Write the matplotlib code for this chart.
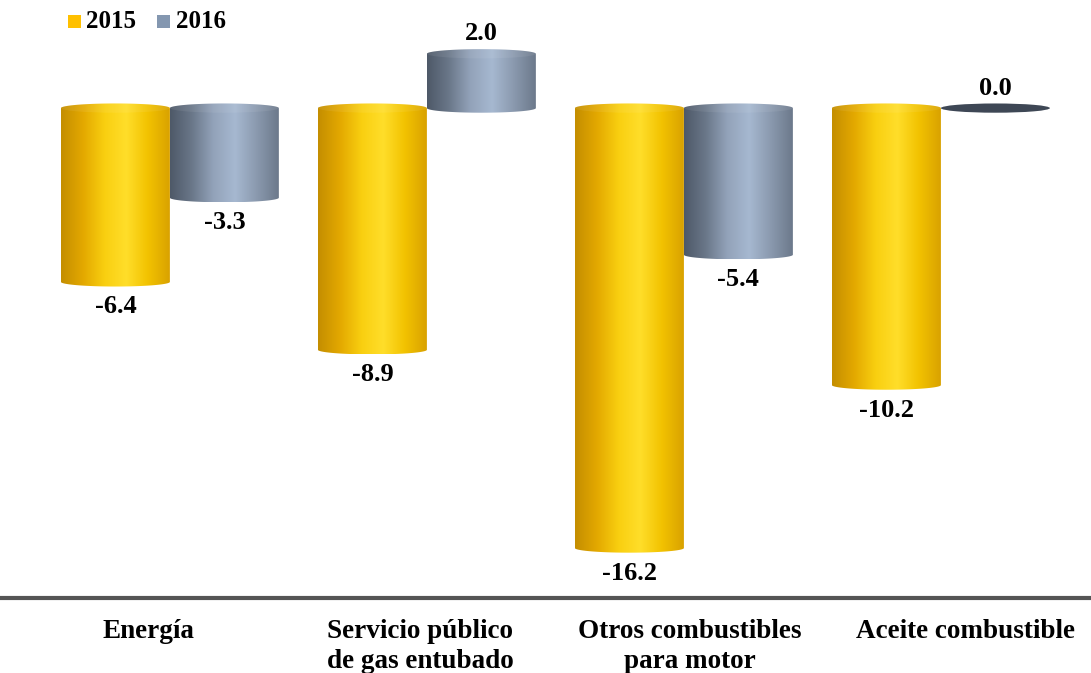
import numpy as np
import matplotlib.pyplot as plt
from matplotlib.path import Path
from matplotlib.patches import PathPatch, Ellipse, Rectangle
from matplotlib.colors import LinearSegmentedColormap

# Datos del gráfico
categorias = ["Energía", "Servicio público\nde gas entubado",
              "Otros combustibles\npara motor", "Aceite combustible"]
series = ["2015", "2016"]
valores_2015 = [-6.4, -8.9, -16.2, -10.2]
valores_2016 = [-3.3, 2.0, -5.4, 0.0]

plt.rcParams['font.family'] = ['Liberation Serif', 'DejaVu Serif']
plt.rcParams['font.weight'] = 'bold'

W, H = 1091, 673
fig = plt.figure(figsize=(W / 100, H / 100), dpi=100)
ax = fig.add_axes([0, 0.1114, 1, 0.8886])

ancho = 0.424
ry = 0.17

cmap_amarillo = LinearSegmentedColormap.from_list(
    "amarillo", ["#C48E00", "#E3A800", "#F9CF10", "#FFDE2A", "#F2C200", "#D9A200"])
cmap_gris = LinearSegmentedColormap.from_list(
    "gris", ["#4E5968", "#6A7789", "#93A3BA", "#A6B8D0", "#8A99AE", "#6C798B"])
grad = np.linspace(0, 1, 256).reshape(1, -1)


def cilindro(x0, valor, cmap, color_cero):
    cx = x0 + ancho / 2
    rx = ancho / 2
    if valor == 0:
        ax.add_patch(Ellipse((cx, 0), ancho, 2 * ry, facecolor=color_cero,
                             edgecolor="none", zorder=3))
        return
    arriba = max(valor, 0)
    abajo = min(valor, 0)
    t = np.linspace(0, np.pi, 60)
    sup = [(cx + rx * np.cos(a), arriba + ry * np.sin(a)) for a in t]
    inf = [(cx - rx * np.cos(a), abajo - ry * np.sin(a)) for a in t]
    verts = sup + inf + [sup[0]]
    codes = [Path.MOVETO] + [Path.LINETO] * (len(verts) - 2) + [Path.CLOSEPOLY]
    forma = PathPatch(Path(verts, codes), transform=ax.transData,
                      facecolor="none", edgecolor="none")
    ax.add_patch(forma)
    im = ax.imshow(grad, cmap=cmap, extent=(x0, x0 + ancho, abajo - ry, arriba + ry),
                   aspect="auto", zorder=2, interpolation="bilinear")
    im.set_clip_path(forma)
    # tapa superior
    ax.add_patch(Ellipse((cx, arriba), ancho, 2 * ry, facecolor="white",
                         alpha=0.07, edgecolor="none", zorder=3))


def etiqueta(x, valor):
    if valor >= 0:
        ax.text(x, valor + ry + 0.14, f"{valor:.1f}", ha="center", va="bottom",
                fontsize=19, fontweight="bold")
    else:
        ax.text(x, valor - ry - 0.33, f"{valor:.1f}", ha="center", va="top",
                fontsize=19, fontweight="bold")


for i in range(len(categorias)):
    cilindro(i - ancho, valores_2015[i], cmap_amarillo, "#B08000")
    cilindro(i, valores_2016[i], cmap_gris, "#3E4755")
    etiqueta(i - ancho / 2, valores_2015[i])
    etiqueta(i + ancho / 2, valores_2016[i])

ax.set_xlim(-0.661, 3.584)
ax.set_ylim(-18.04, 3.98)
ax.set_xticks([])
ax.set_yticks([])
for lado in ["top", "left", "right"]:
    ax.spines[lado].set_visible(False)
ax.spines["bottom"].set_color("#555555")
ax.spines["bottom"].set_linewidth(3)

# Etiquetas de categoría (centros en píxeles)
centros_etiquetas = [148, 420, 690, 965]
for texto, xc in zip(categorias, centros_etiquetas):
    fig.text(xc / W, 1 - 619 / H, texto, ha="center", va="top",
             multialignment="center", fontsize=19.5, fontweight="bold",
             linespacing=1.28)

# Leyenda manual
colores_leyenda = ["#FFC000", "#8497B0"]
pos_cuadro = [68, 157]
pos_texto = [86, 176]
for s, c, xc, xt in zip(series, colores_leyenda, pos_cuadro, pos_texto):
    fig.patches.append(Rectangle((xc / W, 1 - 28 / H), 13 / W, 13 / H,
                                 transform=fig.transFigure, facecolor=c,
                                 edgecolor="none"))
    fig.text(xt / W, 1 - 22 / H, s, ha="left", va="center",
             fontsize=18, fontweight="bold")

fig.savefig("out.png", dpi=100)
